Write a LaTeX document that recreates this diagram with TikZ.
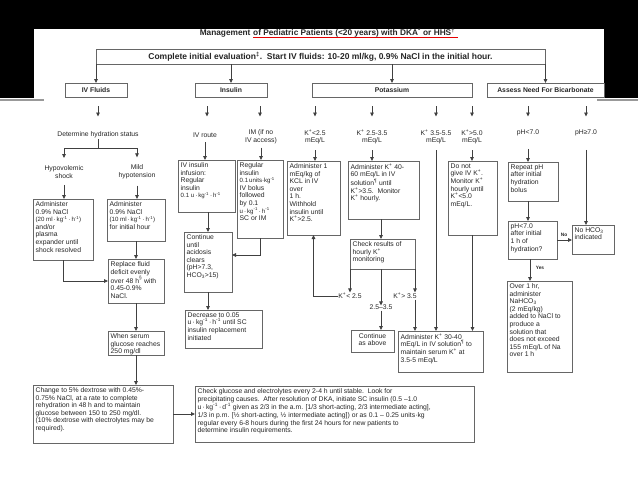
\documentclass[tikz,border=0pt]{standalone}
\usepackage{fontspec}
\setmainfont{Liberation Sans}
\usetikzlibrary{arrows.meta}
\newcommand\fs{\fontsize{6.8}{7.6}\selectfont}
\newcommand\sm{\fontsize{6.1}{7.6}\selectfont}
\tikzset{
  boxst/.style={draw=black!60, line width=0.9pt, inner sep=0pt, outer sep=0pt, fill=white},
  txtst/.style={inner sep=0pt, align=left, font=\fs, text=black!85},
  lbl/.style={inner sep=0.5pt, align=center, font=\fs, text=black!85},
  catst/.style={draw=black!60, line width=0.9pt, inner sep=0pt, outer sep=0pt, font=\bfseries\fontsize{6.8}{7.5}\selectfont, text=black!85},
  arr/.style={draw=black!75, line width=0.8pt, -{Triangle[length=4pt,width=3.6pt]}},
  ln/.style={draw=black!75, line width=0.8pt},
  tiny/.style={inner sep=0pt, font=\bfseries\fontsize{4.8}{5}\selectfont, text=black!85}
}
\newcommand\mybox[6]{%
  \node[boxst, minimum width={#4-#2}, minimum height={#5-#3}] (#1) at ({(#2+#4)/2},{(#3+#5)/2}) {};
  \node[txtst, anchor=north west] at ([xshift=2.5pt,yshift=-2.4pt]#1.north west) {#6};
}
\begin{document}
\begin{tikzpicture}[x=1pt,y=-1pt]
\useasboundingbox (0,0) rectangle (638,479);
\fill[white] (0,0) rectangle (638,479);
\fill[black] (0,0) rectangle (638,29);
\fill[black] (0,0) rectangle (34,98);
\fill[black] (604,0) rectangle (638,98);
\draw[black!40, line width=1.2pt] (0,100) -- (44,100);
\draw[black!40, line width=1.2pt] (597,100) -- (638,100);

% title
\node[font=\bfseries\fontsize{8.3}{9}\selectfont, inner sep=0pt, anchor=base west, text=black!85] (t2) at (253,35.5) {of Pediatric Patients (<20 years) with DKA\textsuperscript{*} or HHS\textsuperscript{†}};
\node[font=\bfseries\fontsize{8.3}{9}\selectfont, inner sep=0pt, anchor=base east, text=black!85] (t1) at ([xshift=-2.3pt]t2.base west) {Management};
\draw[red!90!black, line width=1.5pt] ([yshift=-2.2pt]t2.base west) -- ([yshift=-2.2pt,xshift=3pt]t2.base east);

% top box
\node[boxst, minimum width=449, minimum height=15, font=\bfseries\fontsize{8.5}{9}\selectfont, text=black!85] (top) at (320.5,56.5) {Complete initial evaluation\textsuperscript{‡}.\ \ Start IV fluids: 10-20 ml/kg, 0.9\% NaCl in the initial hour.};

% categories
\node[catst, minimum width=62, minimum height=14] (cIV) at (96,90) {IV Fluids};
\node[catst, minimum width=72, minimum height=14] (cIns) at (231,90) {Insulin};
\node[catst, minimum width=160, minimum height=14] (cK) at (392,90) {Potassium};
\node[catst, minimum width=117, minimum height=14] (cB) at (545.5,90) {Assess Need For Bicarbonate};
\foreach \c in {cIV,cIns,cK,cB}{\draw[arr] (top.south -| \c.north) -- (\c.north);}

% stub arrows
\foreach \n/\x in {1/98,2/207,3/260,4/315,5/372,6/436,7/472,8/528,9/586}{
  \coordinate (sa\n) at (\x,106);
  \coordinate (sb\n) at (\x,116.5);
  \draw[arr] (sa\n) -- (sb\n);
}

% labels row
\node[lbl] (lDet) at (98,135) {Determine hydration status};
\node[lbl] (lIVr) at (205,135) {IV route};
\node[lbl] (lIM) at (261,137) {IM (if no\\IV access)};
\node[lbl] (lK1) at (315,137) {K\textsuperscript{+}<2.5\\mEq/L};
\node[lbl] (lK2) at (372,137) {K\textsuperscript{+} 2.5-3.5\\mEq/L};
\node[lbl] (lK3) at (436,137) {K\textsuperscript{+} 3.5-5.5\\mEq/L};
\node[lbl] (lK4) at (472,137) {K\textsuperscript{+}>5.0\\mEq/L};
\node[lbl] (lpH1) at (528,133) {pH<7.0};
\node[lbl] (lpH2) at (586,133) {pH≥7.0};

% IV fluids column
\node[lbl] (lHyp) at (64,172) {Hypovolemic\\shock};
\node[lbl] (lMild) at (137,172) {Mild\\hypotension};
\mybox{a20}{33}{199}{93}{260}{Administer\\0.9\% NaCl\\{\sm(20 ml\,·\,kg\textsuperscript{-1}\,·\,h\textsuperscript{-1})}\\and/or\\plasma\\expander until\\shock resolved}
\mybox{a10}{107}{199}{165}{241}{Administer\\0.9\% NaCl\\{\sm(10 ml\,·\,kg\textsuperscript{-1}\,·\,h\textsuperscript{-1})}\\for initial hour}
\mybox{rep}{108}{259}{164}{303}{Replace fluid\\deficit evenly\\over 48 h\textsuperscript{§} with\\0.45-0.9\%\\NaCl.}
\mybox{ws}{108}{331}{164}{355}{When serum\\glucose reaches\\250 mg/dl}
\mybox{chg}{33}{385}{173}{443}{Change to 5\% dextrose with 0.45\%-\\0.75\% NaCl, at a rate to complete\\rehydration in 48 h and to maintain\\glucose between 150 to 250 mg/dl.\\(10\% dextrose with electrolytes may be\\required).}
\mybox{cg}{195}{386}{474}{442}{Check glucose and electrolytes every 2-4 h until stable.\ \ Look for\\precipitating causes.\ \ After resolution of DKA, initiate SC insulin (0.5 –1.0\\u\,·\,kg\textsuperscript{-1}\,·\,d\textsuperscript{-1} given as 2/3 in the a.m. [1/3 short-acting, 2/3 intermediate acting],\\1/3 in p.m. [½ short-acting, ½ intermediate acting]) or as 0.1 – 0.25 units·kg\\regular every 6-8 hours during the first 24 hours for new patients to\\determine insulin requirements.}

\coordinate (dj) at (98,148);
\coordinate (dl) at (64,148);
\coordinate (dr) at (137,148);
\draw[ln] (lDet.south) -- (dj);
\draw[ln] (dl) -- (dr);
\draw[arr, shorten >=7pt] (dl) -- (lHyp.north);
\draw[arr, shorten >=7pt] (dr) -- (lMild.north);
\draw[arr, shorten <=6pt] (lHyp.south) -- (lHyp.south |- a20.north);
\draw[arr, shorten <=6pt] (lMild.south) -- (lMild.south |- a10.north);
\draw[arr] (a10.south -| rep.north) -- (rep.north);
\draw[arr] (a20.south) |- (rep.west);
\draw[arr] (rep.south) -- (ws.north);
\draw[arr] (ws.south) -- (ws.south |- chg.north);
\draw[arr] (chg.east) -- (cg.west);

% insulin column
\mybox{ivi}{178}{160}{235}{212}{IV insulin\\infusion:\\Regular\\insulin\\{\sm 0.1 u\,·\,kg\textsuperscript{-1}\,·\,h\textsuperscript{-1}}}
\mybox{reg}{237}{160}{283}{238}{Regular\\insulin\\{\sm 0.1\,units·kg\textsuperscript{-1}}\\IV bolus\\followed\\by 0.1\\{\sm u\,·\,kg\textsuperscript{-1}\,·\,h\textsuperscript{-1}}\\SC or IM}
\mybox{cont}{184}{232}{232}{292}{Continue\\until\\acidosis\\clears\\(pH>7.3,\\HCO\textsubscript{3}>15)}
\mybox{dec}{185}{310}{262}{348}{Decrease to 0.05\\u\,·\,kg\textsuperscript{-1}\,·\,h\textsuperscript{-1} until SC\\insulin replacement\\initiated}
\draw[arr, shorten <=4pt] (lIVr.south) -- (lIVr.south |- ivi.north);
\draw[arr, shorten <=3pt] (lIM.south) -- (lIM.south |- reg.north);
\draw[arr] (ivi.south -| cont.north) -- (cont.north);
\coordinate (regturn) at (260,255);
\draw[arr] (reg.south) -- (regturn) -- (cont.east |- regturn);
\draw[arr] (cont.south) -- (cont.south |- dec.north);

% potassium column
\mybox{k1}{287}{161}{340}{235}{Administer 1\\mEq/kg of\\KCL in IV\\over\\1 h.\\Withhold\\insulin until\\K\textsuperscript{+}>2.5.}
\mybox{k2}{348}{161}{419}{219}{Administer K\textsuperscript{+} 40-\\60 mEq/L in IV\\solution\textsuperscript{¶} until\\K\textsuperscript{+}>3.5.\ \ Monitor\\K\textsuperscript{+} hourly.}
\mybox{chk}{350}{239}{415}{269}{Check results of\\hourly K\textsuperscript{+}\\monitoring}
\node[boxst, minimum width=43, minimum height=22] (kc) at (372.5,341) {};
\node[lbl, anchor=north] at ([yshift=-2.4pt]kc.north) {Continue\\as above};
\mybox{k30}{398}{331}{483}{372}{Administer K\textsuperscript{+} 30-40\\mEq/L in IV solution\textsuperscript{¶} to\\maintain serum K\textsuperscript{+} at\\3.5-5 mEq/L}
\mybox{dng}{448}{161}{497}{235}{Do not\\give IV K\textsuperscript{+}.\\Monitor K\textsuperscript{+}\\hourly until\\K\textsuperscript{+}<5.0\\mEq/L.}

\draw[arr, shorten <=5pt] (lK1.south) -- (lK1.south |- k1.north);
\draw[arr, shorten <=5pt] (lK2.south) -- (lK2.south |- k2.north);
\draw[arr] (k2.south -| 381,0) -- (chk.north -| 381,0);
\node[lbl] (lKl) at (350,296) {K\textsuperscript{+}< 2.5};
\node[lbl] (lKm) at (381,307.5) {2.5–3.5};
\node[lbl] (lKr) at (405,296) {K\textsuperscript{+}> 3.5};
\draw[arr] (chk.south west) -- (lKl.north -| chk.south west);
\draw[arr] (lKl.west) -| (k1.south);
\draw[arr] (chk.south -| lKm.north) -- ([yshift=-1pt]lKm.north);
\draw[arr] (lKm.south) -- (lKm.south |- kc.north);
\draw[arr] (chk.south east) -- (lKr.north -| chk.south east);
\draw[arr] (lKr.south -| chk.south east) -- (k30.north -| chk.south east);
\draw[arr, shorten <=5pt] (lK3.south) -- (lK3.south |- k30.north);
\draw[arr, shorten <=5pt] (lK4.south) -- (lK4.south |- dng.north);
\draw[arr] (dng.south) -- (dng.south |- k30.north);

% bicarbonate column
\mybox{rph}{508}{162}{558}{201}{Repeat pH\\after initial\\hydration\\bolus}
\mybox{ph7}{508}{221}{557}{259}{pH<7.0\\after initial\\1 h of\\hydration?}
\mybox{noh}{572}{225}{614}{254}{No HCO\textsubscript{3}\\indicated}
\mybox{ov1}{507}{281}{572}{372}{Over 1 hr,\\administer\\NaHCO\textsubscript{3}\\(2 mEq/kg)\\added to NaCl to\\produce a\\solution that\\does not exceed\\155 mEq/L of Na\\over 1 h}
\draw[arr, shorten <=12pt] (lpH1.south) -- (lpH1.south |- rph.north);
\draw[arr, shorten <=13pt] (lpH2.south) -- (lpH2.south |- noh.north);
\draw[arr] (rph.south -| lpH1.south) -- (ph7.north -| lpH1.south);
\draw[arr] (ph7.east) -- (ph7.east -| noh.west);
\node[tiny] (lno) at (564,234.5) {No};
\draw[arr] (ph7.south -| 530,0) -- (ov1.north -| 530,0);
\node[tiny] (lyes) at (540,268) {Yes};
\end{tikzpicture}
\end{document}
